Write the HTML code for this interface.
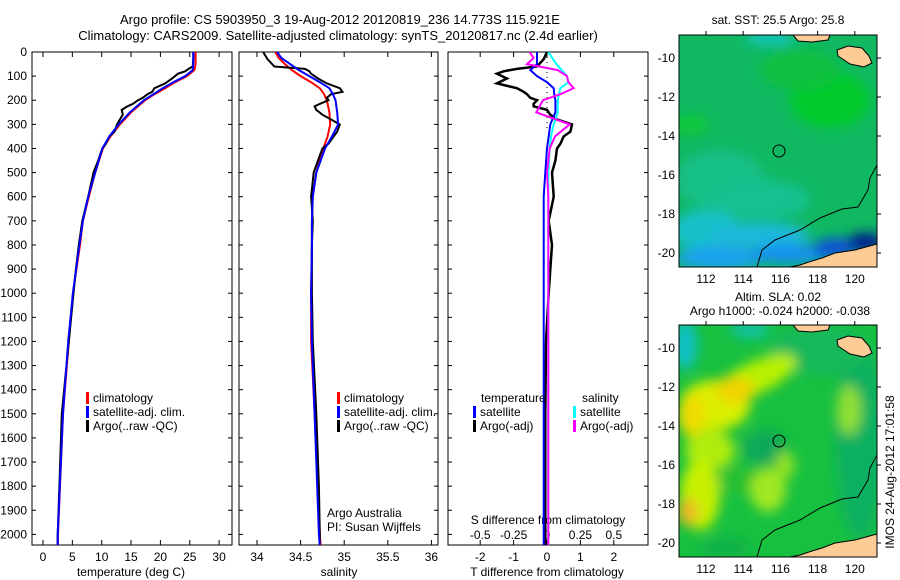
<!DOCTYPE html>
<html><head><meta charset="utf-8"><style>
body{margin:0;background:#fff;}
svg{display:block;font-family:"Liberation Sans",sans-serif;}
text{fill:#000;}
</style></head><body>
<svg id="fig" width="900" height="580" viewBox="0 0 900 580">
<defs>
<clipPath id="c1"><rect x="32" y="52" width="200" height="493"/></clipPath>
<clipPath id="c2"><rect x="239" y="52" width="199" height="493"/></clipPath>
<clipPath id="c3"><rect x="448" y="52" width="200" height="493"/></clipPath>
<clipPath id="cm"><rect x="679" y="35" width="198" height="232"/></clipPath>
<filter id="bl" x="-50%" y="-50%" width="200%" height="200%"><feGaussianBlur stdDeviation="6"/></filter>
</defs>
<text x="340" y="24" font-size="13" text-anchor="middle">Argo profile: CS 5903950_3 19-Aug-2012 20120819_236 14.773S 115.921E</text>
<text x="338" y="40" font-size="13" text-anchor="middle">Climatology: CARS2009. Satellite-adjusted climatology: synTS_20120817.nc (2.4d earlier)</text>
<g id="axes"></g>
<g id="series"></g>

<g>
<text x="778" y="24" font-size="12" text-anchor="middle">sat. SST: 25.5 Argo: 25.8</text>
<g clip-path="url(#cm)">
<rect x="679" y="35" width="198" height="232" fill="#10b862"/>
<g filter="url(#bl)">
<ellipse cx="830" cy="100" rx="40" ry="28" fill="#06ca2a"/>
<ellipse cx="800" cy="70" rx="40" ry="20" fill="#0cc040"/>
<ellipse cx="690" cy="125" rx="20" ry="10" fill="#0cc83a"/>
<ellipse cx="720" cy="180" rx="45" ry="30" fill="#14bf86"/>
<ellipse cx="760" cy="200" rx="50" ry="20" fill="#12c090"/>
<ellipse cx="705" cy="230" rx="35" ry="20" fill="#18c0c8"/>
<ellipse cx="760" cy="235" rx="50" ry="12" fill="#1cb8dc"/>
<ellipse cx="720" cy="258" rx="45" ry="12" fill="#1ca0f0"/>
<ellipse cx="790" cy="254" rx="40" ry="10" fill="#1890f0"/>
<ellipse cx="835" cy="248" rx="22" ry="10" fill="#1050d8"/>
<ellipse cx="866" cy="242" rx="18" ry="9" fill="#001890"/>
<ellipse cx="770" cy="38" rx="25" ry="6" fill="#18c8d0"/>
</g>
<polygon points="837,50 848,46 862,48 869,56 872,63 864,67 850,64 838,56" fill="#fccb96" stroke="#000" stroke-width="1"/>
<polygon points="793,35 830,35 828,40 812,42 798,41" fill="#fccb96" stroke="#000" stroke-width="1"/>
<polygon points="877,244 855,250 835,253 822,258 812,261 800,265 790,267 877,267" fill="#fccb96" stroke="#000" stroke-width="1"/>
<polyline points="757,267 762,250 775,240 800,230 820,218 842,209 858,207 868,190 870,178 877,165" fill="none" stroke="#000" stroke-width="1"/>
<circle cx="779" cy="151" r="6" fill="none" stroke="#000" stroke-width="1"/>
</g>
<rect x="679" y="35" width="198" height="232" fill="none" stroke="#000" stroke-width="1"/>
</g>
<g>
<text x="778" y="301" font-size="12" text-anchor="middle">Altim. SLA: 0.02</text>
<text x="780" y="315" font-size="12" text-anchor="middle">Argo h1000: -0.024 h2000: -0.038</text>
<g transform="translate(0,290)">
<g clip-path="url(#cm)">
<rect x="679" y="35" width="198" height="232" fill="#18c040"/>
<g filter="url(#bl)">
<ellipse cx="860" cy="150" rx="25" ry="100" fill="#10b060"/>
<ellipse cx="820" cy="60" rx="50" ry="25" fill="#14b85a"/>
<ellipse cx="755" cy="88" rx="45" ry="16" fill="#b8f000" transform="rotate(-25 755 88)"/>
<ellipse cx="715" cy="115" rx="35" ry="25" fill="#d8f000"/>
<ellipse cx="735" cy="100" rx="20" ry="14" fill="#f0d400"/>
<ellipse cx="692" cy="125" rx="14" ry="22" fill="#f0dc00"/>
<ellipse cx="710" cy="160" rx="25" ry="20" fill="#b0ec10"/>
<ellipse cx="765" cy="158" rx="22" ry="18" fill="#10a85a"/>
<ellipse cx="740" cy="190" rx="22" ry="14" fill="#28c030"/>
<ellipse cx="700" cy="205" rx="20" ry="35" fill="#c8f000"/>
<ellipse cx="688" cy="222" rx="10" ry="14" fill="#f0b820"/>
<ellipse cx="768" cy="200" rx="18" ry="22" fill="#a0e820"/>
<ellipse cx="785" cy="175" rx="10" ry="14" fill="#90e020"/>
<ellipse cx="849" cy="120" rx="12" ry="25" fill="#90e030"/>
<ellipse cx="685" cy="55" rx="12" ry="25" fill="#10c0c8"/>
<ellipse cx="750" cy="40" rx="20" ry="8" fill="#10c0a8"/>
<ellipse cx="725" cy="258" rx="25" ry="10" fill="#10b048"/>
</g>
<polygon points="837,50 848,46 862,48 869,56 872,63 864,67 850,64 838,56" fill="#fccb96" stroke="#000" stroke-width="1"/>
<polygon points="793,35 830,35 828,40 812,42 798,41" fill="#fccb96" stroke="#000" stroke-width="1"/>
<polygon points="877,244 855,250 835,253 822,258 812,261 800,265 790,267 877,267" fill="#fccb96" stroke="#000" stroke-width="1"/>
<polyline points="757,267 762,250 775,240 800,230 820,218 842,209 858,207 868,190 870,178 877,165" fill="none" stroke="#000" stroke-width="1"/>
<circle cx="779" cy="151" r="6" fill="none" stroke="#000" stroke-width="1"/>
</g>
<rect x="679" y="35" width="198" height="232" fill="none" stroke="#000" stroke-width="1"/>
</g>
</g>
<g id="maplabels"></g>
<text transform="translate(894,472) rotate(-90)" font-size="12" text-anchor="middle">IMOS 24-Aug-2012 17:01:58</text>
</svg>
<script>
const depths=[0,25,50,75,100,125,150,175,200,250,300,350,400,500,600,700,800,1000,1200,1500,2000,2050];
const tempClim=[26,26,26,25.8,24.5,22.5,20.8,19,17.4,15,13.1,11.5,10.2,8.9,7.8,6.8,6.3,5.1,4.4,3.4,2.55,2.5];
const tempSat=[25.6,25.6,25.6,25.5,24.2,22.2,20.4,18.8,17.2,14.8,12.9,11.3,10.1,8.9,7.7,6.8,6.2,5.1,4.3,3.4,2.5,2.5];
const argoDepths=[0,30,60,70,80,90,110,130,150,165,175,190,200,215,225,240,260,280,300,330,350,380,400,450,500,600,700,800,900,1000,1200,1500,1800,2000,2050];
const tempArgo=[25.6,25.6,25.5,24.8,24.2,23,22,20.8,19,18.6,17.8,17,16.2,15.3,14.4,13.4,13.6,13.1,12.6,12.2,11.3,10.7,10.1,9.4,8.6,7.7,6.7,6.1,5.6,5.2,4.4,3.2,2.8,2.5,2.5];
const salClim=[34.21,34.25,34.32,34.4,34.5,34.62,34.72,34.77,34.8,34.83,34.84,34.81,34.76,34.68,34.64,34.63,34.63,34.62,34.62,34.66,34.72,34.73];
const salSat=[34.23,34.28,34.38,34.48,34.6,34.72,34.83,34.87,34.9,34.92,34.93,34.86,34.78,34.68,34.64,34.63,34.63,34.62,34.63,34.66,34.71,34.72];
const salArgo=[34.07,34.12,34.2,34.55,34.6,34.62,34.7,34.8,34.95,34.98,34.85,34.8,34.82,34.72,34.66,34.68,34.75,34.85,34.95,34.92,34.88,34.82,34.75,34.7,34.65,34.62,34.64,34.63,34.63,34.63,34.64,34.68,34.71,34.72,34.72];
const tdSat=[-0.3,-0.3,-0.3,-0.5,-0.3,0,0.2,0.22,0.25,0.25,0.1,0.05,0,-0.05,-0.1,-0.1,-0.1,-0.1,-0.1,-0.1,-0.1,-0.1];
const tdArgo=[0,-0.1,-0.3,-0.9,-1.3,-1.5,-1.2,-1.5,-0.9,-0.7,-0.6,-0.5,-0.3,-0.4,-0.4,0,0.1,0.3,0.75,0.7,0.5,0.4,0.3,0.25,0.15,0.2,0.05,0.15,0.1,0.05,-0.03,-0.05,-0.05,-0.05,-0.05];
const sdSat=[0.01,0.04,0.07,0.11,0.15,0.16,0.1,0.09,0.08,0.08,0.05,0.03,0.02,0.01,0.01,0.01,0.01,0.01,0.01,0.01,0.01,0.01];
const sdArgo=[-0.13,-0.1,-0.15,0.08,0.15,0.16,0.2,0.1,-0.03,-0.08,0.17,0.06,0.02,0,0.01,0.01,0.01,0.01,0.01,0.01,0.01,0.01];
const depthTicks=[0,100,200,300,400,500,600,700,800,900,1000,1100,1200,1300,1400,1500,1600,1700,1800,1900,2000];
const tempTicks=[0,5,10,15,20,25,30];
const salTicks=[34,34.5,35,35.5,36];
const tdTicks=[-2,-1,0,1,2];
const sdTicks=[-0.5,-0.25,0,0.25,0.5];
const sdTickLabels=["-0.5","-0.25","0","0.25","0.5"];
const latTicks=[-10,-12,-14,-16,-18,-20];
const lonTicks=[112,114,116,118,120];

const NS="http://www.w3.org/2000/svg";
const Y=d=>52+d*0.2412;
const X1=t=>43+t*5.87;
const X2=s=>257+(s-34)*87.2;
const X3=v=>547+v*33.4;
const XS=v=>547+v*133.6;
const MX=lon=>706+(lon-112)*18.6;
const MY=lat=>58+(-10-lat)*19.5;
const axes=document.getElementById('axes'), ser=document.getElementById('series'), ml=document.getElementById('maplabels');
function mk(tag,attrs,parent,txt){const e=document.createElementNS(NS,tag);for(const k in attrs)e.setAttribute(k,attrs[k]);if(txt!==undefined)e.textContent=txt;parent.appendChild(e);return e;}

const panels=[{x:32,w:200,clip:'c1',nm:'temperature'},{x:239,w:199,clip:'c2',nm:'salinity'},{x:448,w:200,clip:'c3',nm:'difference'}];
panels.forEach(p=>{
  const r=mk('rect',{x:p.x,y:52,width:p.w,height:493,fill:'none',stroke:'#000','stroke-width':1},axes);
  
  
  depthTicks.forEach(d=>{
    mk('line',{x1:p.x,x2:p.x+4,y1:Y(d),y2:Y(d),stroke:'#000'},axes);
    mk('line',{x1:p.x+p.w-4,x2:p.x+p.w,y1:Y(d),y2:Y(d),stroke:'#000'},axes);
  });
});
depthTicks.forEach(d=>{
  const t=mk('text',{x:27,y:Y(d)+4,'font-size':12,'text-anchor':'end'},axes,String(d));
  
  
});
function xticks(vals,fn,labels,ly){
  vals.forEach((v,i)=>{
    mk('line',{x1:fn(v),x2:fn(v),y1:545,y2:540,stroke:'#000'},axes);
    mk('line',{x1:fn(v),x2:fn(v),y1:52,y2:57,stroke:'#000'},axes);
    const t=mk('text',{x:fn(v),y:ly,'font-size':12,'text-anchor':'middle'},axes,labels[i]);
    
    
  });
}
xticks(tempTicks,X1,tempTicks.map(String),561);
xticks(salTicks,X2,salTicks.map(String),561);
xticks(tdTicks,X3,tdTicks.map(String),561);
sdTicks.forEach((v,i)=>{
  const t=mk('text',{x:XS(v),y:539,'font-size':12,'text-anchor':'middle'},axes,sdTickLabels[i]);
  
  
});
[[131,'temperature (deg C)','temperature-axis-title'],[339,'salinity','salinity-axis-title'],[547,'T difference from climatology','t-diff-axis-title']].forEach(a=>{
  const t=mk('text',{x:a[0],y:576,'font-size':12,'text-anchor':'middle'},axes,a[1]);
  
  
});
const sd=mk('text',{x:548,y:524,'font-size':12,'text-anchor':'middle'},axes,'S difference from climatology');


mk('line',{x1:547,x2:547,y1:52,y2:Y(320),stroke:'#000','stroke-dasharray':'1,4'},axes);

function line(xs,ds,fx,col,clip,name,w){
  const pts=xs.map((v,i)=>fx(v).toFixed(1)+','+Y(ds[i]).toFixed(1)).join(' ');
  const e=mk('polyline',{points:pts,fill:'none',stroke:col,'stroke-width':w||2,'clip-path':'url(#'+clip+')'},ser);
  
  
}
line(tempClim,depths,X1,'#ff0000','c1','temperature-climatology-line');
line(tempArgo,argoDepths,X1,'#000','c1','temperature-argo-line');
line(tempSat,depths,X1,'#0000ff','c1','temperature-satellite-line');
line(salClim,depths,X2,'#ff0000','c2','salinity-climatology-line');
line(salArgo,argoDepths,X2,'#000','c2','salinity-argo-line');
line(salSat,depths,X2,'#0000ff','c2','salinity-satellite-line');
line(tdArgo,argoDepths,X3,'#000','c3','t-diff-argo-line',2.5);
line(tdSat,depths,X3,'#0000ff','c3','t-diff-satellite-line');
line(sdSat,depths,XS,'#00ffff','c3','s-diff-satellite-line');
line(sdArgo,depths,XS,'#ff00ff','c3','s-diff-argo-line');

function legend(x,y,col,label,name){
  const g=mk('g',{},ser);
  
  
  mk('rect',{x:x,y:y-10,width:3,height:12,fill:col},g);
  mk('text',{x:x+7,y:y,'font-size':12},g,label);
}
legend(86,402,'#ff0000','climatology','legend-temp-climatology');
legend(86,416,'#0000ff','satellite-adj. clim.','legend-temp-satellite');
legend(86,430,'#000','Argo(..raw -QC)','legend-temp-argo');
legend(337,402,'#ff0000','climatology','legend-sal-climatology');
legend(337,416,'#0000ff','satellite-adj. clim.','legend-sal-satellite');
legend(337,430,'#000','Argo(..raw -QC)','legend-sal-argo');
const lt=mk('text',{x:481,y:402,'font-size':12},ser,'temperature');


const ls=mk('text',{x:582,y:402,'font-size':12},ser,'salinity');


legend(473,416,'#0000ff','satellite','legend-tdiff-satellite');
legend(473,430,'#000','Argo(-adj)','legend-tdiff-argo');
legend(573,416,'#00ffff','satellite','legend-sdiff-satellite');
legend(573,430,'#ff00ff','Argo(-adj)','legend-sdiff-argo');
const a1=mk('text',{x:327,y:517,'font-size':12},ser,'Argo Australia');


const a2=mk('text',{x:327,y:531,'font-size':12},ser,'PI: Susan Wijffels');



[0,290].forEach(off=>{
  latTicks.forEach(l=>{
    const t=mk('text',{x:675,y:MY(l)+off+4,'font-size':12,'text-anchor':'end'},ml,String(l));
    
    
    mk('line',{x1:877,x2:881,y1:MY(l)+off,y2:MY(l)+off,stroke:'#000'},ml);
  });
  lonTicks.forEach(l=>{
    const t=mk('text',{x:MX(l),y:283+off,'font-size':12,'text-anchor':'middle'},ml,String(l));
    
    
    mk('line',{x1:MX(l),x2:MX(l),y1:31+off,y2:35+off,stroke:'#000'},ml);
  });
});
</script>
</body></html>
